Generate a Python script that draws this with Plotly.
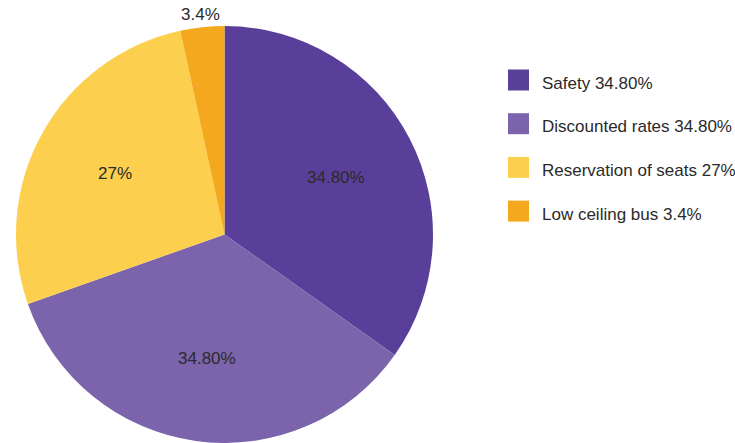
import math
import plotly.graph_objects as go

# Survey shares for bus service priorities
categories = ["Safety", "Discounted rates", "Reservation of seats", "Low ceiling bus"]
values = [34.8, 34.8, 27.0, 3.4]
value_labels = ["34.80%", "34.80%", "27%", "3.4%"]
colors = ["#5A3F9A", "#7B64AB", "#FCD04E", "#F4A81D"]
label_outside = [False, False, False, True]

W, H = 735, 443
cx, cy, r = 224.5, 234.5, 208.5  # pie centre / radius in pixels (from top-left)
FONT = "Liberation Sans, Arial, sans-serif"
TEXT_COLOR = "#2a2a2a"

fig = go.Figure(
    go.Pie(
        labels=categories,
        values=values,
        textinfo="none",
        marker=dict(colors=colors, line=dict(width=0)),
        sort=False,
        direction="clockwise",
        rotation=0,
        hoverinfo="label+percent",
        showlegend=False,
        domain=dict(
            x=[(cx - r) / W, (cx + r) / W],
            y=[max(0.0, (H - cy - r) / H), (H - cy + r) / H],
        ),
    )
)

annotations = []
shapes = []

# Slice value labels placed along each slice's mid-angle (clockwise from 12 o'clock)
total = sum(values)
start = 0.0
for val, lab, outside in zip(values, value_labels, label_outside):
    frac = val / total
    mid = (start + frac / 2) * 2 * math.pi
    start += frac
    rr = r * (1.06 if outside else 0.6)
    px = cx + rr * math.sin(mid)
    py = cy - rr * math.cos(mid)
    annotations.append(dict(
        xref="paper", yref="paper", x=px / W, y=(H - py) / H,
        xanchor="center", yanchor="middle", showarrow=False,
        text=lab, font=dict(family=FONT, size=17, color=TEXT_COLOR),
    ))

# Legend drawn as coloured squares with labels
legend_x0 = 508
legend_y0 = 80
legend_step = 43.7
sq = 21
for i, (cat, lab, col) in enumerate(zip(categories, value_labels, colors)):
    yc = legend_y0 + i * legend_step
    shapes.append(dict(
        type="rect", xref="paper", yref="paper",
        x0=legend_x0 / W, x1=(legend_x0 + sq) / W,
        y0=(H - yc - sq / 2) / H, y1=(H - yc + sq / 2) / H,
        fillcolor=col, line=dict(width=0),
    ))
    annotations.append(dict(
        xref="paper", yref="paper",
        x=540 / W, y=(H - yc - 3) / H,
        xanchor="left", yanchor="middle",
        text=f"{cat} {lab}", showarrow=False,
        font=dict(family=FONT, size=17, color=TEXT_COLOR),
    ))

fig.update_layout(
    width=W, height=H,
    margin=dict(l=0, r=0, t=0, b=0),
    paper_bgcolor="white",
    plot_bgcolor="white",
    shapes=shapes,
    annotations=annotations,
)

fig.write_html("out.html")
